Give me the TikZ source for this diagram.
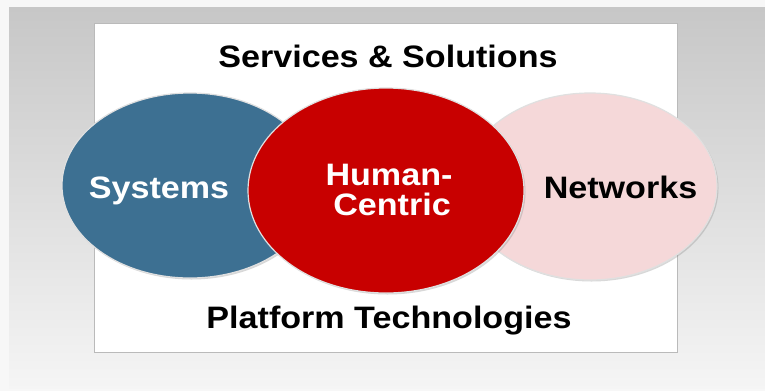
\documentclass[tikz,border=0pt]{standalone}
\usepackage{fontspec}
\setmainfont{Liberation Sans}[FakeStretch=1.1]
\usepackage{tikz}
\usetikzlibrary{shapes.geometric}
\usetikzlibrary{shadows}
\definecolor{sysblue}{RGB}{61,112,146}
\definecolor{hcred}{RGB}{200,0,0}
\definecolor{netpink}{RGB}{245,216,217}
\tikzset{
  blob/.style={ellipse,draw=white!88!black,line width=1.2pt,
    drop shadow={opacity=0.3,shadow xshift=1.5pt,shadow yshift=-1.5pt}},
  lbl/.style={font=\bfseries\fontsize{31}{30}\selectfont,anchor=base,inner sep=0pt}
}

\begin{document}
\begin{tikzpicture}[x=1pt,y=-1pt]
    \useasboundingbox (0,0) rectangle (765,391);
    \fill[white!97!black] (0,0) rectangle (765,391);
    \shade[top color=white!78!black,bottom color=white!96!black]
      (9,7) rectangle (765,388);
    \draw[white!73!black,fill=white,line width=1pt] (94,23) rectangle (677,352);
    % the three circles
    \node[blob,fill=sysblue,minimum width=256,minimum height=185] (sys) at (190,185.5) {};
    \node[blob,fill=netpink,minimum width=254,minimum height=187] (net) at (590,186.5) {};
    \node[blob,fill=hcred,minimum width=276,minimum height=205] (hc) at (386,190.5) {};
    \node[lbl,text=white] (systxt) at (159,198) {Systems};
    \node[lbl] (nettxt) at (620.5,198) {Networks};
    \node[lbl,text=white] (hum) at (389,185) {Human-};
    \node[lbl,text=white] (cen) at (392,215) {Centric};
    % layers above and below
    \node[lbl] (serv) at (388,67) {Services \& Solutions};
    \node[lbl] (plat) at (389,328) {Platform Technologies};
\end{tikzpicture}
\end{document}
